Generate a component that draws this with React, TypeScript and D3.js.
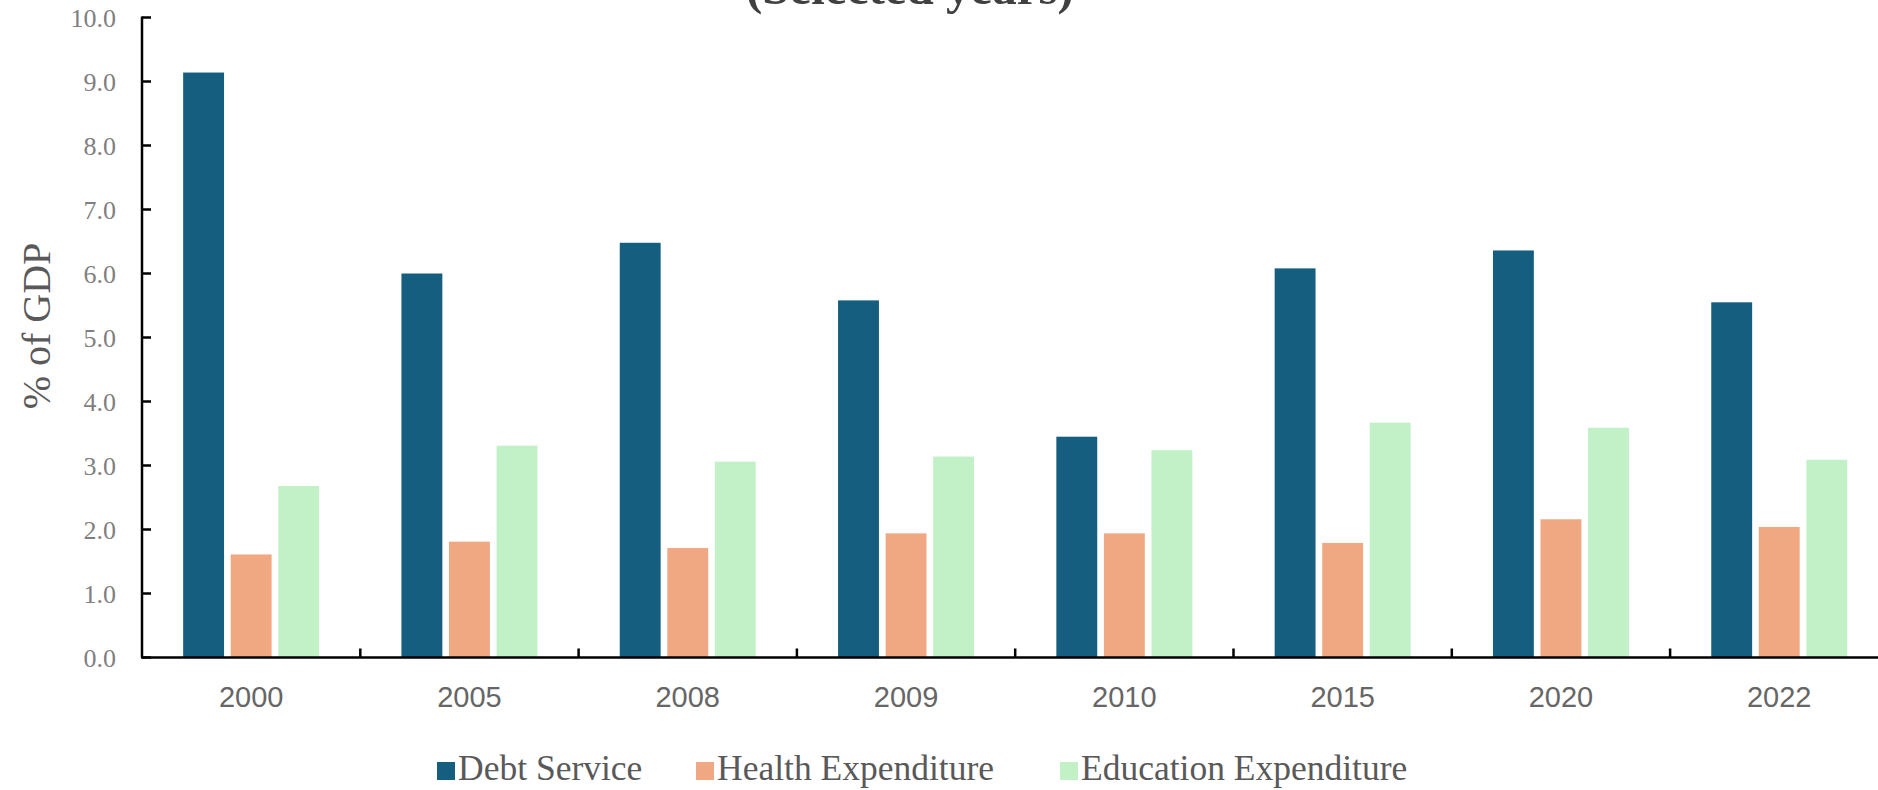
import React from "react";
import * as d3 from "d3";

// Selected years shown on the category axis
const years = ["2000", "2005", "2008", "2009", "2010", "2015", "2020", "2022"];

// Series values, % of GDP
const debtService = [9.14, 6.0, 6.48, 5.58, 3.45, 6.08, 6.36, 5.55];
const healthExpenditure = [1.61, 1.81, 1.71, 1.94, 1.94, 1.79, 2.16, 2.04];
const educationExpenditure = [2.68, 3.31, 3.06, 3.14, 3.24, 3.67, 3.59, 3.09];

const seriesNames = ["Debt Service", "Health Expenditure", "Education Expenditure"];
const seriesColors = ["#165E80", "#F0A882", "#C2F1C8"];

// Y axis tick values and labels
const yTicks = [0, 1, 2, 3, 4, 5, 6, 7, 8, 9, 10];

const W = 1878;
const H = 790;

export default function App() {
  const values = [debtService, healthExpenditure, educationExpenditure];

  const axisX = 142;
  const stepW = 218.3;
  const y = d3.scaleLinear().domain([0, 10]).range([657.5, 17.5]);

  const x0 = d3
    .scaleBand<string>()
    .domain(years)
    .range([axisX, axisX + stepW * years.length])
    .paddingInner(0.377)
    .paddingOuter(0.377 / 2);

  const x1 = d3
    .scaleBand<string>()
    .domain(seriesNames)
    .range([0, x0.bandwidth()])
    .paddingInner(0.14)
    .paddingOuter(0);

  const serif = "'Liberation Serif', 'Times New Roman', serif";
  const sans = "'Liberation Sans', Arial, sans-serif";

  const legendX = [437, 696, 1060];

  return (
    <svg
      width={W}
      height={H}
      style={{ position: "absolute", left: 0, top: 0, background: "#fff" }}
    >
      {/* Title, partly outside the top edge */}
      <text
        x={910}
        y={4}
        textAnchor="middle"
        fontFamily={serif}
        fontWeight="bold"
        fontSize={49}
        fill="#404040"
      >
        (Selected years)
      </text>

      {/* Bars */}
      {years.map((yr, i) => (
        <g key={yr} transform={`translate(${x0(yr)},0)`}>
          {seriesNames.map((s, k) => (
            <rect
              key={s}
              x={x1(s)}
              y={y(values[k][i])}
              width={x1.bandwidth()}
              height={y(0) - y(values[k][i])}
              fill={seriesColors[k]}
            />
          ))}
        </g>
      ))}

      {/* Y axis */}
      <line x1={axisX} x2={axisX} y1={y(10) - 1} y2={y(0)} stroke="#000" strokeWidth={2.5} />
      {yTicks.map((t) => (
        <g key={t}>
          <line x1={axisX} x2={axisX + 9} y1={y(t)} y2={y(t)} stroke="#000" strokeWidth={2.5} />
          <text
            x={116}
            y={y(t)}
            dy="0.35em"
            textAnchor="end"
            fontFamily={serif}
            fontSize={26}
            fill="#7F7F7F"
          >
            {t.toFixed(1)}
          </text>
        </g>
      ))}

      {/* X axis */}
      <line x1={axisX - 1} x2={W} y1={y(0)} y2={y(0)} stroke="#000" strokeWidth={2.5} />
      {years.map((yr, i) => (
        <line
          key={yr}
          x1={axisX + stepW * (i + 1)}
          x2={axisX + stepW * (i + 1)}
          y1={y(0)}
          y2={y(0) - 9}
          stroke="#000"
          strokeWidth={2.5}
        />
      ))}
      {years.map((yr) => (
        <text
          key={yr}
          x={(x0(yr) as number) + x0.bandwidth() / 2}
          y={697}
          dy="0.35em"
          textAnchor="middle"
          fontFamily={sans}
          fontSize={29}
          fill="#666666"
        >
          {yr}
        </text>
      ))}

      {/* Y axis title */}
      <text
        transform="translate(36,326) rotate(-90)"
        textAnchor="middle"
        dy="0.35em"
        fontFamily={serif}
        fontSize={40}
        fill="#595959"
      >
        % of GDP
      </text>

      {/* Legend */}
      {seriesNames.map((s, k) => (
        <g key={s} transform={`translate(${legendX[k]},0)`}>
          <rect x={0} y={762} width={18} height={18} fill={seriesColors[k]} />
          <text x={21} y={780} fontFamily={serif} fontSize={35.5} fill="#595959">
            {s}
          </text>
        </g>
      ))}
    </svg>
  );
}
